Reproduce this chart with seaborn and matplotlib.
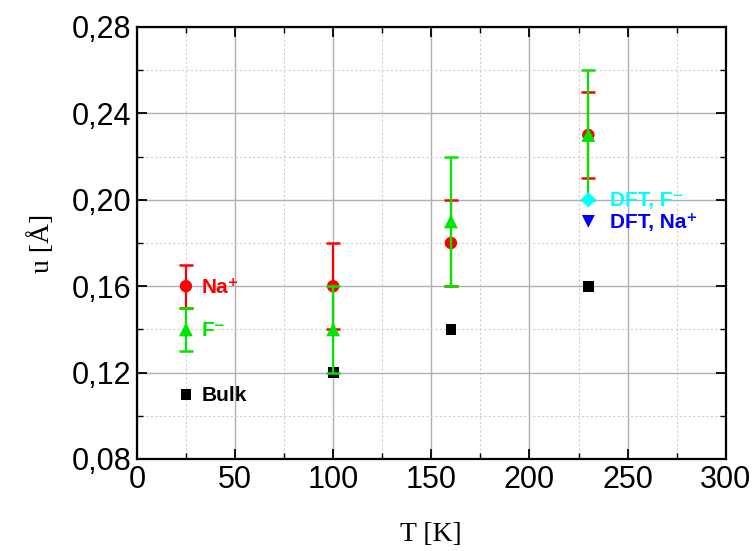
import matplotlib
matplotlib.use("Agg")
import matplotlib.pyplot as plt
import seaborn as sns
import pandas as pd
from matplotlib.ticker import MultipleLocator, FuncFormatter

T = [25, 100, 160, 230]
na_u = [0.16, 0.16, 0.18, 0.23]
na_err = [0.01, 0.02, 0.02, 0.02]
f_u = [0.14, 0.14, 0.19, 0.23]
f_err = [0.01, 0.02, 0.03, 0.03]
bulk_u = [0.11, 0.12, 0.14, 0.16]
dft_T = [230]
dft_f_u = [0.20]
dft_na_u = [0.19]

sns.set_theme(style="white")
plt.rcParams['font.family'] = ['Liberation Sans', 'DejaVu Sans']
plt.rcParams['text.color'] = 'black'
plt.rcParams['axes.labelcolor'] = 'black'
plt.rcParams['xtick.color'] = 'black'
plt.rcParams['ytick.color'] = 'black'

RED = "#ff0000"
GREEN = "#00e600"
CYAN = "#00ffff"
BLUE = "#0000ff"

fig = plt.figure(figsize=(7.56, 5.51), dpi=100)
ax = fig.add_axes([0.181, 0.167, 0.779, 0.784])

ax.set_axisbelow(True)
ax.xaxis.set_major_locator(MultipleLocator(50))
ax.xaxis.set_minor_locator(MultipleLocator(25))
ax.yaxis.set_major_locator(MultipleLocator(0.04))
ax.yaxis.set_minor_locator(MultipleLocator(0.02))
ax.grid(which="major", color="#b0b0b0", linestyle="-", linewidth=1.0)
ax.grid(which="minor", color="#cfcfcf", linestyle=(0, (2, 2)), linewidth=0.8)

# bulk
df_bulk = pd.DataFrame({"T": T, "u": bulk_u})
sns.scatterplot(data=df_bulk, x="T", y="u", marker="s", color="black", s=60,
                edgecolor="none", ax=ax, zorder=3)

# Na+
ax.errorbar(T, na_u, yerr=na_err, fmt="none", ecolor=RED, elinewidth=1.6,
            capsize=4.8, capthick=1.8, zorder=4)
df_na = pd.DataFrame({"T": T, "u": na_u})
sns.scatterplot(data=df_na, x="T", y="u", marker="o", color=RED, s=80,
                edgecolor="none", ax=ax, zorder=5)

# F-
ax.errorbar(T, f_u, yerr=f_err, fmt="none", ecolor=GREEN, elinewidth=1.6,
            capsize=4.8, capthick=1.8, zorder=6)
df_f = pd.DataFrame({"T": T, "u": f_u})
sns.scatterplot(data=df_f, x="T", y="u", marker="^", color=GREEN, s=100,
                edgecolor="none", ax=ax, zorder=7)

# DFT
sns.scatterplot(x=dft_T, y=dft_f_u, marker="D", color=CYAN, s=60,
                edgecolor="none", ax=ax, zorder=7)
sns.scatterplot(x=dft_T, y=dft_na_u, marker="v", color=BLUE, s=85,
                edgecolor="none", ax=ax, zorder=7)

kw = dict(fontsize=15, fontweight="bold", va="center", ha="left")
ax.text(33, 0.1595, "Na⁺", color=RED, **kw)
ax.text(33, 0.1395, "F⁻", color=GREEN, **kw)
ax.text(33, 0.1095, "Bulk", color="black", **kw)
ax.text(241, 0.1995, "DFT, F⁻", color=CYAN, **kw)
ax.text(241, 0.1895, "DFT, Na⁺", color=BLUE, **kw)

ax.set_xlim(0, 300)
ax.set_ylim(0.08, 0.28)
ax.yaxis.set_major_formatter(FuncFormatter(lambda v, p: f"{v:.2f}".replace(".", ",")))
ax.xaxis.set_major_formatter(FuncFormatter(lambda v, p: f"{v:.0f}"))

ax.tick_params(which="both", direction="in", top=True, right=True,
               bottom=True, left=True, color="black", labelcolor="black")
ax.tick_params(which="major", length=7, width=1.3, labelsize=22, pad=4)
ax.tick_params(which="minor", length=4, width=1.0)
for s in ax.spines.values():
    s.set_color("black")
    s.set_linewidth(1.6)

serif = ['Liberation Serif', 'DejaVu Serif']
ax.set_xlabel("T [K]", fontsize=20, family=serif, labelpad=20, color="black")
ax.set_ylabel("u [Å]", fontsize=20, family=serif, labelpad=12, color="black")

fig.savefig("out.png", dpi=100)
